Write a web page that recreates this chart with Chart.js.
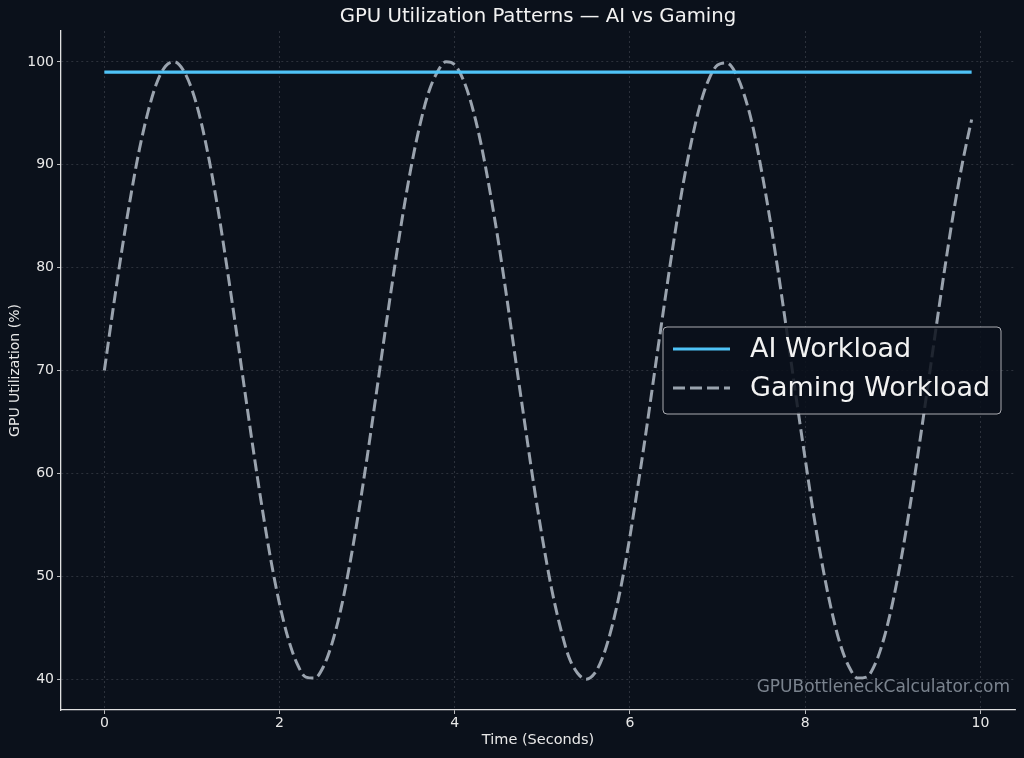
<!DOCTYPE html>
<html>
<head>
<meta charset="utf-8">
<title>GPU Utilization Patterns</title>
<script src="https://cdn.jsdelivr.net/npm/chart.js@4.4.1/dist/chart.umd.min.js"></script>
<style>
    html, body { margin: 0; padding: 0; background: #0b111b; }
    #wrap { width: 1024px; height: 758px; position: relative; }
</style>
</head>
<body>
<div id="wrap"><canvas id="gpuChart"></canvas></div>
<script>
const tiempos = [
    0.0, 0.1, 0.2, 0.3, 0.4, 0.5, 0.6, 0.7, 0.8, 0.9,
    1.0, 1.1, 1.2, 1.3, 1.4, 1.5, 1.6, 1.7, 1.8, 1.9,
    2.0, 2.1, 2.2, 2.3, 2.4, 2.5, 2.6, 2.7, 2.8, 2.9,
    3.0, 3.1, 3.2, 3.3, 3.4, 3.5, 3.6, 3.7, 3.8, 3.9,
    4.0, 4.1, 4.2, 4.3, 4.4, 4.5, 4.6, 4.7, 4.8, 4.9,
    5.0, 5.1, 5.2, 5.3, 5.4, 5.5, 5.6, 5.7, 5.8, 5.9,
    6.0, 6.1, 6.2, 6.3, 6.4, 6.5, 6.6, 6.7, 6.8, 6.9,
    7.0, 7.1, 7.2, 7.3, 7.4, 7.5, 7.6, 7.7, 7.8, 7.9,
    8.0, 8.1, 8.2, 8.3, 8.4, 8.5, 8.6, 8.7, 8.8, 8.9,
    9.0, 9.1, 9.2, 9.3, 9.4, 9.5, 9.6, 9.7, 9.8, 9.9
];

const aiWorkload = [99, 99];
const aiTiempos = [0.0, 9.9];

const gamingWorkload = [
    70.0, 76.0, 81.7, 86.9, 91.5, 95.2, 98.0, 99.6, 100.0, 99.2,
    97.3, 94.3, 90.3, 85.5, 80.0, 74.2, 68.2, 62.3, 56.7, 51.6,
    47.3, 43.9, 41.5, 40.2, 40.1, 41.2, 43.5, 46.8, 51.1, 56.1,
    61.6, 67.5, 73.5, 79.3, 84.8, 89.7, 93.8, 97.0, 99.0, 100.0,
    99.7, 98.2, 95.6, 92.0, 87.5, 82.4, 76.7, 70.7, 64.8, 59.0,
    53.7, 49.0, 45.2, 42.2, 40.6, 40.0, 40.6, 42.4, 45.3, 49.1,
    53.9, 59.3, 65.0, 71.0, 76.9, 82.6, 87.8, 92.2, 95.8, 98.3,
    99.7, 99.9, 99.0, 96.9, 93.8, 89.5, 84.6, 79.1, 73.2, 67.2,
    61.4, 55.8, 50.9, 46.7, 43.4, 41.2, 40.1, 40.2, 41.5, 44.0,
    47.5, 51.9, 57.0, 62.6, 68.5, 74.5, 80.3, 85.7, 90.4, 94.4
];

const xTicks = [0, 2, 4, 6, 8, 10];
const yTicks = [40, 50, 60, 70, 80, 90, 100];

const titulo = "GPU Utilization Patterns — AI vs Gaming";
const marcaAgua = "GPUBottleneckCalculator.com";

const fuente = "'DejaVu Sans', sans-serif";
const colorTexto = "#e8e8e8";
const colorGrid = "rgba(200, 205, 215, 0.22)";

// titulo centrado sobre el area, leyenda y marca de agua dibujadas a mano
const extras = {
    id: "extras",
    afterDatasetsDraw(chart) {
        const c = chart.ctx;
        const area = chart.chartArea;
        c.save();
        c.font = "17px " + fuente;
        c.fillStyle = "rgba(160, 170, 182, 0.75)";
        c.textAlign = "right";
        c.textBaseline = "middle";
        c.fillText(marcaAgua, area.right - 5, 688);

        c.font = "19.7px " + fuente;
        c.fillStyle = "#f2f2f2";
        c.textAlign = "center";
        c.fillText(titulo, (area.left + area.right) / 2, 17);
        c.restore();
    },
    afterDraw(chart) {
        const c = chart.ctx;
        const x = 663, y = 327, w = 338, h = 87;
        c.save();
        c.beginPath();
        c.roundRect(x, y, w, h, 4);
        c.fillStyle = "rgba(11, 17, 27, 0.85)";
        c.fill();
        c.lineWidth = 1;
        c.strokeStyle = "rgba(210, 210, 215, 0.8)";
        c.stroke();

        c.font = "27px " + fuente;
        c.textBaseline = "middle";
        c.textAlign = "left";
        chart.data.datasets.forEach((ds, i) => {
            const yy = 349 + i * 39;
            c.beginPath();
            c.setLineDash(ds.borderDash || []);
            c.lineWidth = ds.borderWidth;
            c.strokeStyle = ds.borderColor;
            c.moveTo(673, yy);
            c.lineTo(730, yy);
            c.stroke();
            c.setLineDash([]);
            c.fillStyle = "#f2f2f2";
            c.fillText(ds.label, 750, yy + 1);
        });
        c.restore();
    }
};

const ctx = document.getElementById("gpuChart").getContext("2d");
const gpuChart = new Chart(ctx, {
    type: "line",
    data: {
        datasets: [
            {
                label: "AI Workload",
                data: aiTiempos.map((t, i) => ({ x: t, y: aiWorkload[i] })),
                borderColor: "#4fc3f7",
                borderWidth: 3.2,
                pointRadius: 0,
                fill: false
            },
            {
                label: "Gaming Workload",
                data: tiempos.map((t, i) => ({ x: t, y: gamingWorkload[i] })),
                borderColor: "#9aa3ae",
                borderWidth: 3,
                borderDash: [12, 5],
                pointRadius: 0,
                cubicInterpolationMode: "monotone",
                fill: false
            }
        ]
    },
    options: {
        responsive: true,
        maintainAspectRatio: false,
        animation: false,
        layout: { padding: { top: 31, right: 9, bottom: 0, left: 0 } },
        plugins: {
            legend: { display: false },
            tooltip: { enabled: false },
            title: { display: false }
        },
        scales: {
            x: {
                type: "linear",
                min: -0.495,
                max: 10.395,
                afterBuildTicks: (scale) => { scale.ticks = xTicks.map(v => ({ value: v })); },
                afterFit: (scale) => { scale.height = 48; },
                ticks: {
                    color: colorTexto,
                    font: { family: fuente, size: 14 },
                    padding: 1,
                    maxRotation: 0
                },
                grid: {
                    color: colorGrid,
                    lineWidth: 0.8,
                    tickColor: colorTexto,
                    tickLength: 4
                },
                border: { display: true, color: "#e0e0e0", width: 1.3, dash: [2, 3] },
                title: {
                    display: true,
                    text: "Time (Seconds)",
                    color: colorTexto,
                    font: { family: fuente, size: 14.5 },
                    padding: { top: 0, bottom: 9 }
                }
            },
            y: {
                type: "linear",
                min: 37,
                max: 103,
                afterBuildTicks: (scale) => { scale.ticks = yTicks.map(v => ({ value: v })); },
                afterFit: (scale) => { scale.width = 61; },
                ticks: {
                    color: colorTexto,
                    font: { family: fuente, size: 14 },
                    padding: 3
                },
                grid: {
                    color: colorGrid,
                    lineWidth: 0.8,
                    tickColor: colorTexto,
                    tickLength: 4
                },
                border: { display: true, color: "#e0e0e0", width: 1.3, dash: [2, 3] },
                title: {
                    display: true,
                    text: "GPU Utilization (%)",
                    color: colorTexto,
                    font: { family: fuente, size: 14 },
                    padding: { top: 7, bottom: 0 }
                }
            }
        }
    },
    plugins: [extras]
});
</script>
</body>
</html>
